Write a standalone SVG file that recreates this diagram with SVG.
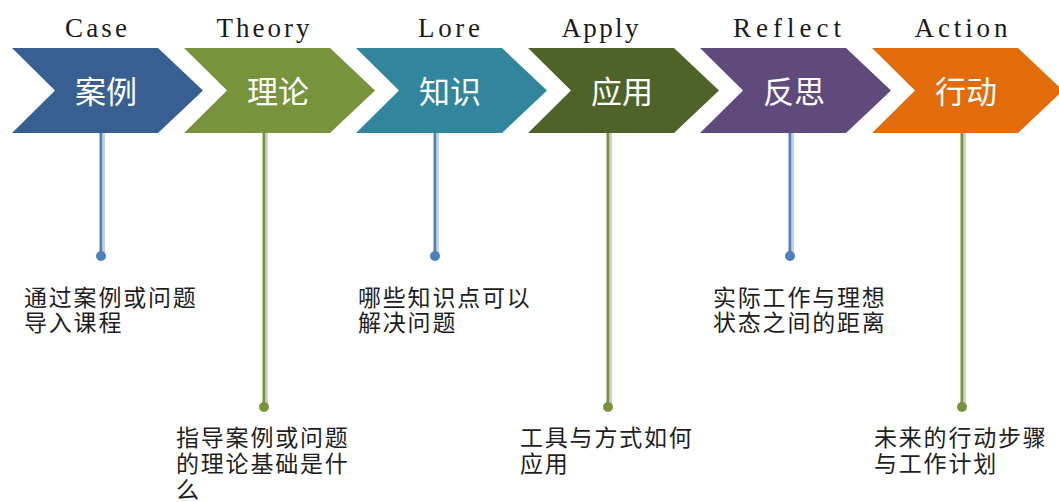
<svg xmlns="http://www.w3.org/2000/svg" width="1059" height="502" viewBox="0 0 1059 502">
<style>
.title{font-family:"Liberation Serif","DejaVu Serif",serif;font-size:27px;fill:#1a1a1a;text-anchor:middle}
.lab{font-family:"Noto Sans CJK SC","Noto Sans",sans-serif;font-size:31px;fill:#ffffff;text-anchor:middle}
.desc{font-family:"Noto Sans CJK SC","Noto Sans",sans-serif;font-size:23px;fill:#1e1e1e;letter-spacing:1.8px}
.lb{stroke:#4F81BD;stroke-width:3;fill:none}
.lg{stroke:#77933C;stroke-width:3;fill:none}
.sh{stroke:#d0d0d0;stroke-width:2;fill:none}
.db{fill:#4F81BD}
.dg{fill:#77933C}
</style>
<defs>
<path id="chev" d="M0,0 H146 L191,42.5 L146,85 H0 L43,42.5 Z"/>
</defs>
<g id="connectors">
<line class="sh" x1="104" y1="133" x2="104" y2="254"/>
<line class="lb" x1="101" y1="133" x2="101" y2="256"/>
<circle class="db" cx="101" cy="256" r="5"/>
<line class="sh" x1="267" y1="133" x2="267" y2="405"/>
<line class="lg" x1="264" y1="133" x2="264" y2="407"/>
<circle class="dg" cx="264" cy="407" r="5"/>
<line class="sh" x1="438" y1="133" x2="438" y2="254"/>
<line class="lb" x1="435" y1="133" x2="435" y2="256"/>
<circle class="db" cx="435" cy="256" r="5"/>
<line class="sh" x1="611" y1="133" x2="611" y2="405"/>
<line class="lg" x1="608" y1="133" x2="608" y2="407"/>
<circle class="dg" cx="608" cy="407" r="5"/>
<line class="sh" x1="793" y1="133" x2="793" y2="254"/>
<line class="lb" x1="790" y1="133" x2="790" y2="256"/>
<circle class="db" cx="790" cy="256" r="5"/>
<line class="sh" x1="965" y1="133" x2="965" y2="405"/>
<line class="lg" x1="962" y1="133" x2="962" y2="407"/>
<circle class="dg" cx="962" cy="407" r="5"/>
</g>
<g id="case">
<text class="title" x="96" y="37" textLength="62" lengthAdjust="spacing">Case</text>
<use href="#chev" x="12" y="48" fill="#375F91"/>
<text class="lab" x="106" y="103">案例</text>
<text class="desc" x="24" y="306">通过案例或问题</text>
<text class="desc" x="24" y="331">导入课程</text>
</g>
<g id="theory">
<text class="title" x="263" y="37" textLength="93" lengthAdjust="spacing">Theory</text>
<use href="#chev" x="184" y="48" fill="#77933C"/>
<text class="lab" x="278" y="103">理论</text>
<text class="desc" x="176" y="446">指导案例或问题</text>
<text class="desc" x="176" y="472">的理论基础是什</text>
<text class="desc" x="176" y="498">么</text>
</g>
<g id="lore">
<text class="title" x="449" y="37" textLength="62" lengthAdjust="spacing">Lore</text>
<use href="#chev" x="356" y="48" fill="#31859C"/>
<text class="lab" x="450" y="103">知识</text>
<text class="desc" x="358" y="306">哪些知识点可以</text>
<text class="desc" x="358" y="331">解决问题</text>
</g>
<g id="apply">
<text class="title" x="600" y="37" textLength="77" lengthAdjust="spacing">Apply</text>
<use href="#chev" x="528" y="48" fill="#4F6228"/>
<text class="lab" x="622" y="103">应用</text>
<text class="desc" x="520" y="446">工具与方式如何</text>
<text class="desc" x="520" y="472">应用</text>
</g>
<g id="reflect">
<text class="title" x="787" y="37" textLength="108" lengthAdjust="spacing">Reflect</text>
<use href="#chev" x="700" y="48" fill="#604A7B"/>
<text class="lab" x="794" y="103">反思</text>
<text class="desc" x="713" y="306">实际工作与理想</text>
<text class="desc" x="713" y="331">状态之间的距离</text>
</g>
<g id="action">
<text class="title" x="961" y="37" textLength="93" lengthAdjust="spacing">Action</text>
<use href="#chev" x="872" y="48" fill="#E36C0A"/>
<text class="lab" x="966" y="103">行动</text>
<text class="desc" x="874" y="446">未来的行动步骤</text>
<text class="desc" x="874" y="472">与工作计划</text>
</g>
</svg>
